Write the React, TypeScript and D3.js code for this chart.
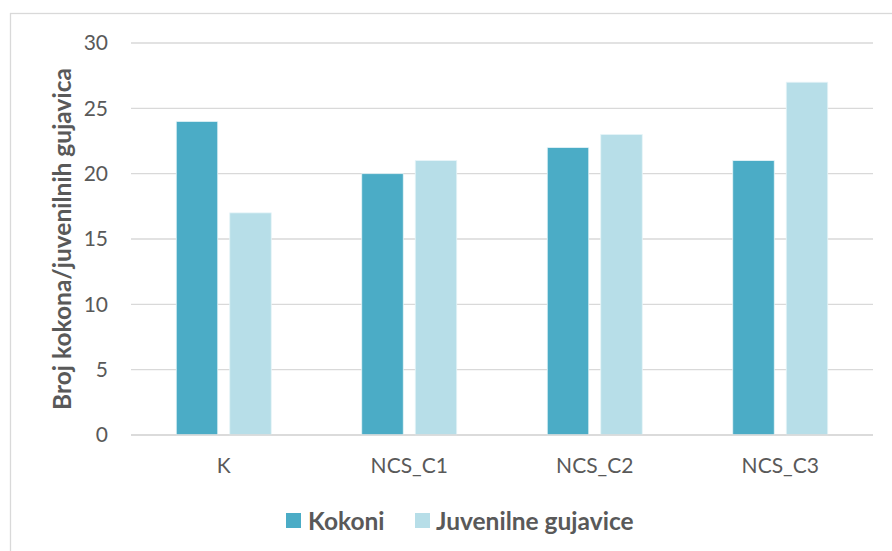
import React from "react";
import * as d3 from "d3";

const categories = ["K", "NCS_C1", "NCS_C2", "NCS_C3"];
const kokoni = [24, 20, 22, 21];
const juvenilne = [17, 21, 23, 27];
const seriesNames = ["Kokoni", "Juvenilne gujavice"];
const seriesColors = ["#4BACC6", "#B7DEE8"];
const yTicks = [0, 5, 10, 15, 20, 25, 30];

const W = 892;
const H = 551;
const plot = { left: 131, right: 873, top: 43, bottom: 435 };
const font = "Lato, 'Open Sans', sans-serif";
const textColor = "#595959";

export default function App() {
  const x = d3
    .scaleBand<string>()
    .domain(categories)
    .range([plot.left, plot.right])
    .paddingInner(0)
    .paddingOuter(0);
  const y = d3.scaleLinear().domain([0, 30]).range([plot.bottom, plot.top]);
  const barW = 41.5;
  const gap = 12;
  const series = [kokoni, juvenilne];

  return (
    <div style={{ position: "absolute", left: 0, top: 0, width: W, height: H }}>
      <svg width={W} height={H} style={{ display: "block", fontFamily: font }}>
        <rect x={0} y={0} width={W} height={H} fill="#fff" />
        <rect x={10.5} y={13.5} width={W + 20} height={H + 20} fill="#fff" stroke="#d9d9d9" strokeWidth={1.3} />
        {yTicks.map((t) => (
          <g key={t}>
            <line x1={plot.left} x2={plot.right} y1={y(t)} y2={y(t)} stroke="#d9d9d9" strokeWidth={1.4} />
            <text x={108} y={y(t)} dy="0.35em" textAnchor="end" fontSize={21} fill={textColor}>
              {t}
            </text>
          </g>
        ))}
        {categories.map((c, i) => {
          const cx = (x(c) as number) + x.bandwidth() / 2;
          return (
            <g key={c}>
              {series.map((vals, s) => {
                const bx = s === 0 ? cx - gap / 2 - barW : cx + gap / 2;
                return (
                  <rect
                    key={s}
                    x={bx}
                    y={y(vals[i])}
                    width={barW}
                    height={y(0) - y(vals[i])}
                    fill={seriesColors[s]}
                    stroke="#e6f4f8"
                    strokeWidth={0.8}
                  />
                );
              })}
              <text x={cx} y={466} dy="0.35em" textAnchor="middle" fontSize={21} fill={textColor}>
                {c}
              </text>
            </g>
          );
        })}
        <line x1={plot.left} x2={plot.right} y1={y(0)} y2={y(0)} stroke="#d9d9d9" strokeWidth={1.4} />
        <text
          transform={`translate(62, ${(plot.top + plot.bottom) / 2}) rotate(-90)`}
          textAnchor="middle"
          dy="0.35em"
          fontSize={24.5}
          fontWeight="bold"
          fill={textColor}
        >
          Broj kokona/juvenilnih gujavica
        </text>
        <g>
          <rect x={286} y={513} width={15} height={15} fill={seriesColors[0]} />
          <text x={308} y={521} dy="0.35em" fontSize={24.5} fontWeight="bold" fill={textColor}>
            {seriesNames[0]}
          </text>
          <rect x={415} y={513} width={15} height={15} fill={seriesColors[1]} />
          <text x={436} y={521} dy="0.35em" fontSize={24.5} fontWeight="bold" fill={textColor}>
            {seriesNames[1]}
          </text>
        </g>
      </svg>
    </div>
  );
}
